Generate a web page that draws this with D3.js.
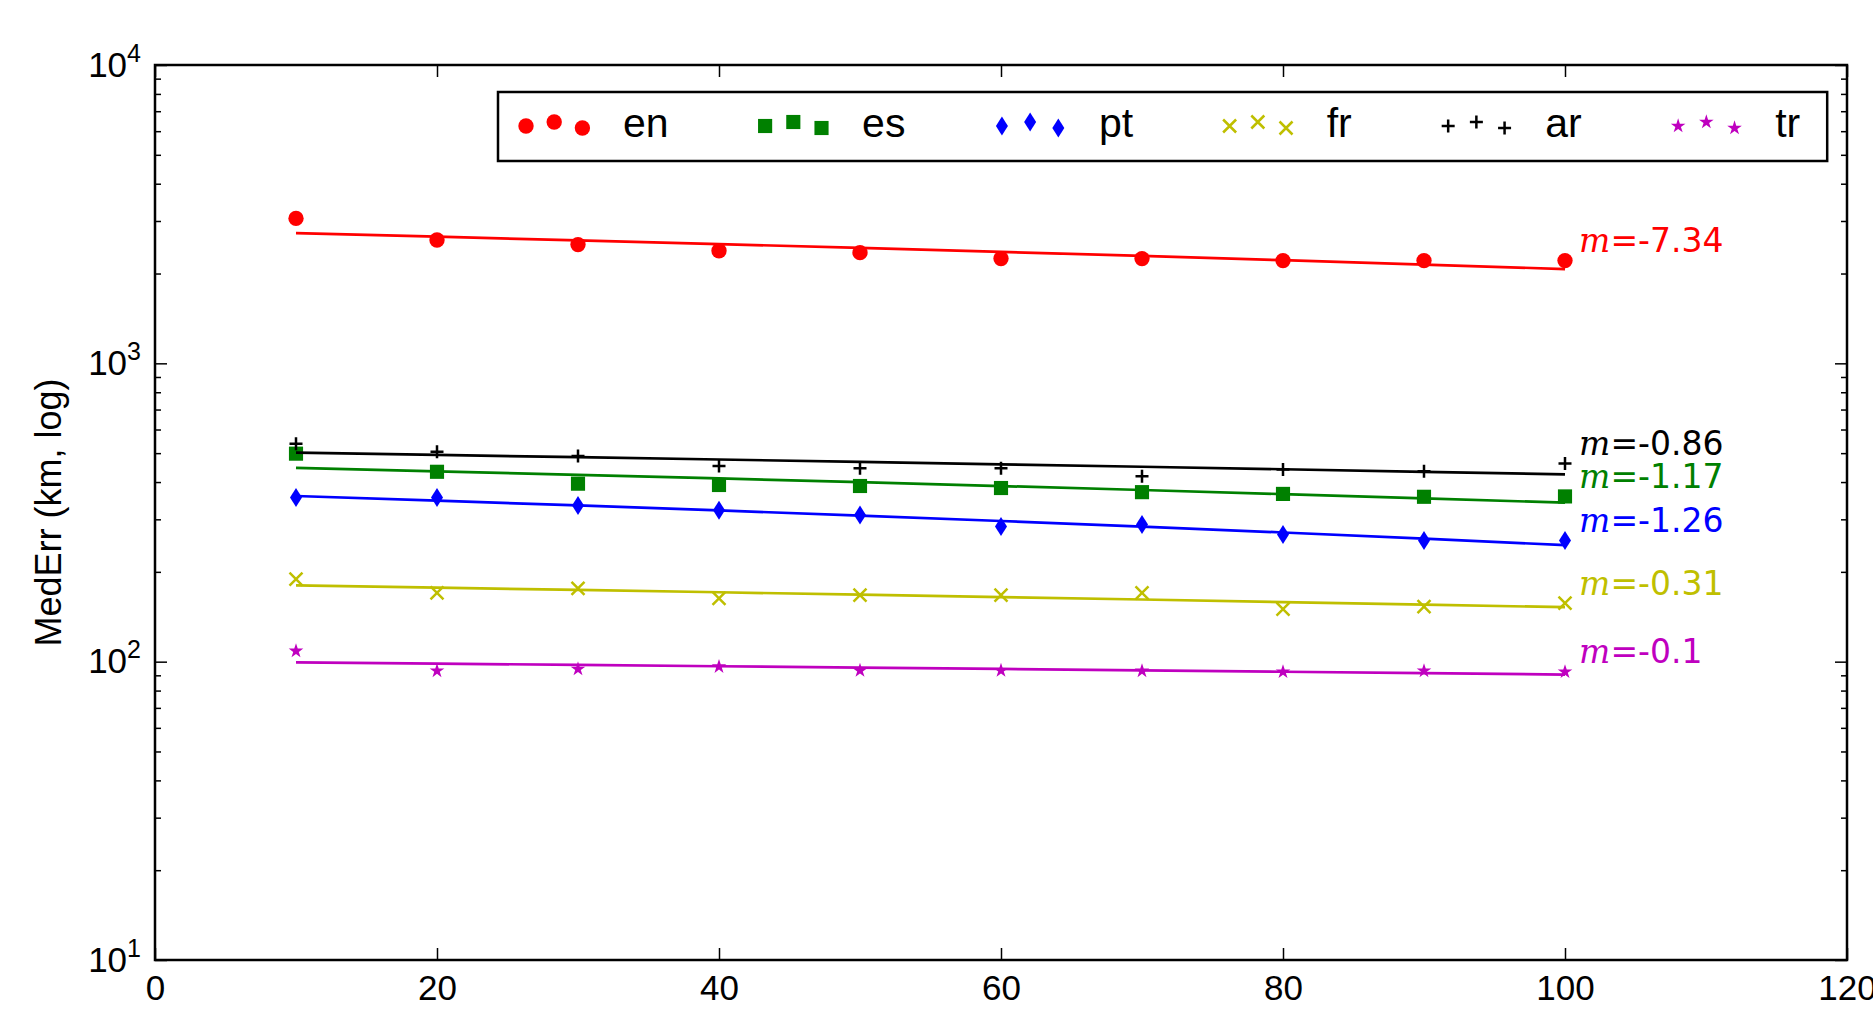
<!DOCTYPE html>
<html>
<head>
<meta charset="utf-8">
<script src="https://cdn.jsdelivr.net/npm/d3@7"></script>
<style>
    body { margin: 0; background: #fff; }
    .tickLabel { font-family: "Liberation Sans", Arial, sans-serif; font-size: 35px; fill: #000; }
    .axisTitle { font-family: "Liberation Sans", Arial, sans-serif; font-size: 36px; fill: #000; }
    .legendText { font-family: "Liberation Sans", Arial, sans-serif; font-size: 41px; fill: #000; }
    .slopeLabel { font-family: "DejaVu Sans", sans-serif; font-size: 33px; }
    .slopeLabel .mathM { font-family: "DejaVu Serif", serif; font-style: italic; }
</style>
</head>
<body>
<script>
(function (){

    //data
    var xValues = [10, 20, 30, 40, 50, 60, 70, 80, 90, 100];
    var langs = ["en", "es", "pt", "fr", "ar", "tr"];
    var enErr = [3060, 2590, 2500, 2385, 2350, 2245, 2245, 2210, 2210, 2210];
    var esErr = [498, 433, 395, 391, 388, 382, 370, 365, 357, 358];
    var ptErr = [355, 355, 334, 322, 310, 284, 288, 267, 255, 255];
    var frErr = [189, 170, 176, 163, 167, 167, 170, 150, 153, 157];
    var arErr = [538, 505, 489, 453, 445, 445, 418, 441, 435, 462];
    var trErr = [108.6, 93.1, 94.5, 96.2, 93.4, 93.4, 93.1, 92.4, 93.1, 92.4];
    var slopes = [-7.34, -1.17, -1.26, -0.31, -0.86, -0.1]; //fitted slopes as printed
    var xTicks = [0, 20, 40, 60, 80, 100, 120];
    var yTicks = [10, 100, 1000, 10000];
    var yTickExp = ["1", "2", "3", "4"];
    var scatterOffsets = [0.375, 0.5, 0.3125]; //legend handle offsets

    var errArrays = [enErr, esErr, ptErr, frErr, arErr, trErr];
    var colors = ["#ff0000", "#008000", "#0000ff", "#bfbf00", "#000000", "#bf00bf"];
    var markers = ["circle", "square", "thinDiamond", "x", "plus", "star"];

    window.onload = setChart();

    function markerPath(type){
        if (type == "circle") return d3.symbol().type(d3.symbolCircle).size(185)();
        if (type == "square") return d3.symbol().type(d3.symbolSquare).size(200)();
        if (type == "star") return d3.symbol().type(d3.symbolStar).size(66)();
        if (type == "thinDiamond") return "M0,-9.5L6,0L0,9.5L-6,0Z";
        if (type == "x") return "M-6.5,-6.5L6.5,6.5M-6.5,6.5L6.5,-6.5";
        return "M-6.5,0H6.5M0,-6.5V6.5"; //plus
    }

    function styleMarker(sel, type, color){
        if (type == "x" || type == "plus"){
            sel.style("fill", "none").style("stroke", color).style("stroke-width", 2.5);
        } else {
            sel.style("fill", color).style("stroke", "none");
        }
    }

    function setChart(){
        var width = 1873,
            height = 1009,
            left = 155, right = 1847, top = 65, bottom = 960;

        var svg = d3.select("body")
            .append("svg")
            .attr("width", width)
            .attr("height", height);

        var xScale = d3.scaleLinear().domain([0, 120]).range([left, right]);
        var yScale = d3.scaleLog().domain([10, 10000]).range([bottom, top]);

        var minorTicks = yScale.ticks().filter(function(v){
            return yTicks.indexOf(v) < 0;
        });

        //inward ticks on all four sides
        svg.append("g")
            .attr("transform", "translate(0," + bottom + ")")
            .call(d3.axisBottom(xScale).tickValues(xTicks).tickSize(-12).tickPadding(15).tickSizeOuter(0));
        svg.append("g")
            .attr("transform", "translate(0," + top + ")")
            .call(d3.axisTop(xScale).tickValues(xTicks).tickSize(-12).tickFormat("").tickSizeOuter(0));
        var yAxisG = svg.append("g")
            .attr("transform", "translate(" + left + ",0)")
            .call(d3.axisLeft(yScale).tickValues(yTicks).tickSize(-12).tickPadding(14).tickSizeOuter(0));
        svg.append("g")
            .attr("transform", "translate(" + left + ",0)")
            .call(d3.axisLeft(yScale).tickValues(minorTicks).tickSize(-6).tickFormat("").tickSizeOuter(0));
        svg.append("g")
            .attr("transform", "translate(" + right + ",0)")
            .call(d3.axisRight(yScale).tickValues(yTicks).tickSize(-12).tickFormat("").tickSizeOuter(0));
        svg.append("g")
            .attr("transform", "translate(" + right + ",0)")
            .call(d3.axisRight(yScale).tickValues(minorTicks).tickSize(-6).tickFormat("").tickSizeOuter(0));

        svg.selectAll(".domain").remove();
        svg.selectAll(".tick line").style("stroke", "#000").style("stroke-width", 1.5);
        svg.selectAll(".tick text").attr("class", "tickLabel").attr("font-size", null).attr("font-family", null);

        //power-of-ten labels
        yAxisG.selectAll(".tick text").each(function(d, i){
            var t = d3.select(this).text("");
            t.append("tspan").text("10");
            t.append("tspan").attr("dy", -15).style("font-size", "25px").text(yTickExp[i]);
        });

        //axis title
        svg.append("text")
            .attr("class", "axisTitle")
            .attr("transform", "translate(48," + ((top + bottom) / 2) + ") rotate(-90)")
            .attr("text-anchor", "middle")
            .attr("dominant-baseline", "central")
            .text("MedErr (km, log)");

        var xMean = d3.mean(xValues);

        langs.forEach(function(lang, s){
            var vals = errArrays[s];
            var yMean = d3.mean(vals);
            var m = slopes[s];

            //fitted line through the means with the printed slope
            var line = d3.line()
                .x(function(d){ return xScale(d); })
                .y(function(d){ return yScale(yMean + m * (d - xMean)); });

            svg.append("path")
                .datum(xValues)
                .attr("d", line)
                .style("fill", "none")
                .style("stroke", colors[s])
                .style("stroke-width", 2.7);

            var pts = svg.selectAll(".pt" + lang)
                .data(vals)
                .enter()
                .append("path")
                .attr("class", "pt" + lang)
                .attr("d", markerPath(markers[s]))
                .attr("transform", function(d, i){
                    return "translate(" + xScale(xValues[i]) + "," + yScale(d) + ")";
                });
            styleMarker(pts, markers[s], colors[s]);

            //slope label next to last point
            var last = vals[vals.length - 1];
            var lab = svg.append("text")
                .attr("class", "slopeLabel")
                .attr("x", xScale(101))
                .attr("y", yScale(last) - 8.5)
                .style("fill", colors[s]);
            lab.append("tspan").attr("class", "mathM").text("m");
            lab.append("tspan").text("=" + m);
        });

        //frame
        svg.append("rect")
            .attr("x", left)
            .attr("y", top)
            .attr("width", right - left)
            .attr("height", bottom - top)
            .style("fill", "none")
            .style("stroke", "#000")
            .style("stroke-width", 2.5);

        setLegend(svg);
    }

    function setLegend(svg){
        var boxX = 498, boxY = 92, boxH = 69,
            handleStep = 28.2,
            textOffset = 97,
            colGap = 96.5,
            handleBase = 138,
            handleH = 32,
            baseline = 136.7;

        var box = svg.append("rect")
            .attr("x", boxX)
            .attr("y", boxY)
            .attr("height", boxH)
            .style("fill", "#fff")
            .style("stroke", "#000")
            .style("stroke-width", 2.5);

        var x0 = boxX + 28;
        var endX = x0;
        langs.forEach(function(lang, s){
            var hs = svg.selectAll(".lg" + lang)
                .data(scatterOffsets)
                .enter()
                .append("path")
                .attr("class", "lg" + lang)
                .attr("d", markerPath(markers[s]))
                .attr("transform", function(d, i){
                    return "translate(" + (x0 + i * handleStep) + "," + (handleBase - d * handleH) + ")";
                });
            styleMarker(hs, markers[s], colors[s]);

            var t = svg.append("text")
                .attr("class", "legendText")
                .attr("x", x0 + textOffset)
                .attr("y", baseline)
                .text(lang);
            endX = x0 + textOffset + t.node().getComputedTextLength();
            x0 = endX + colGap;
        });

        box.attr("width", endX + 27 - boxX);
    }

})();
</script>
</body>
</html>
